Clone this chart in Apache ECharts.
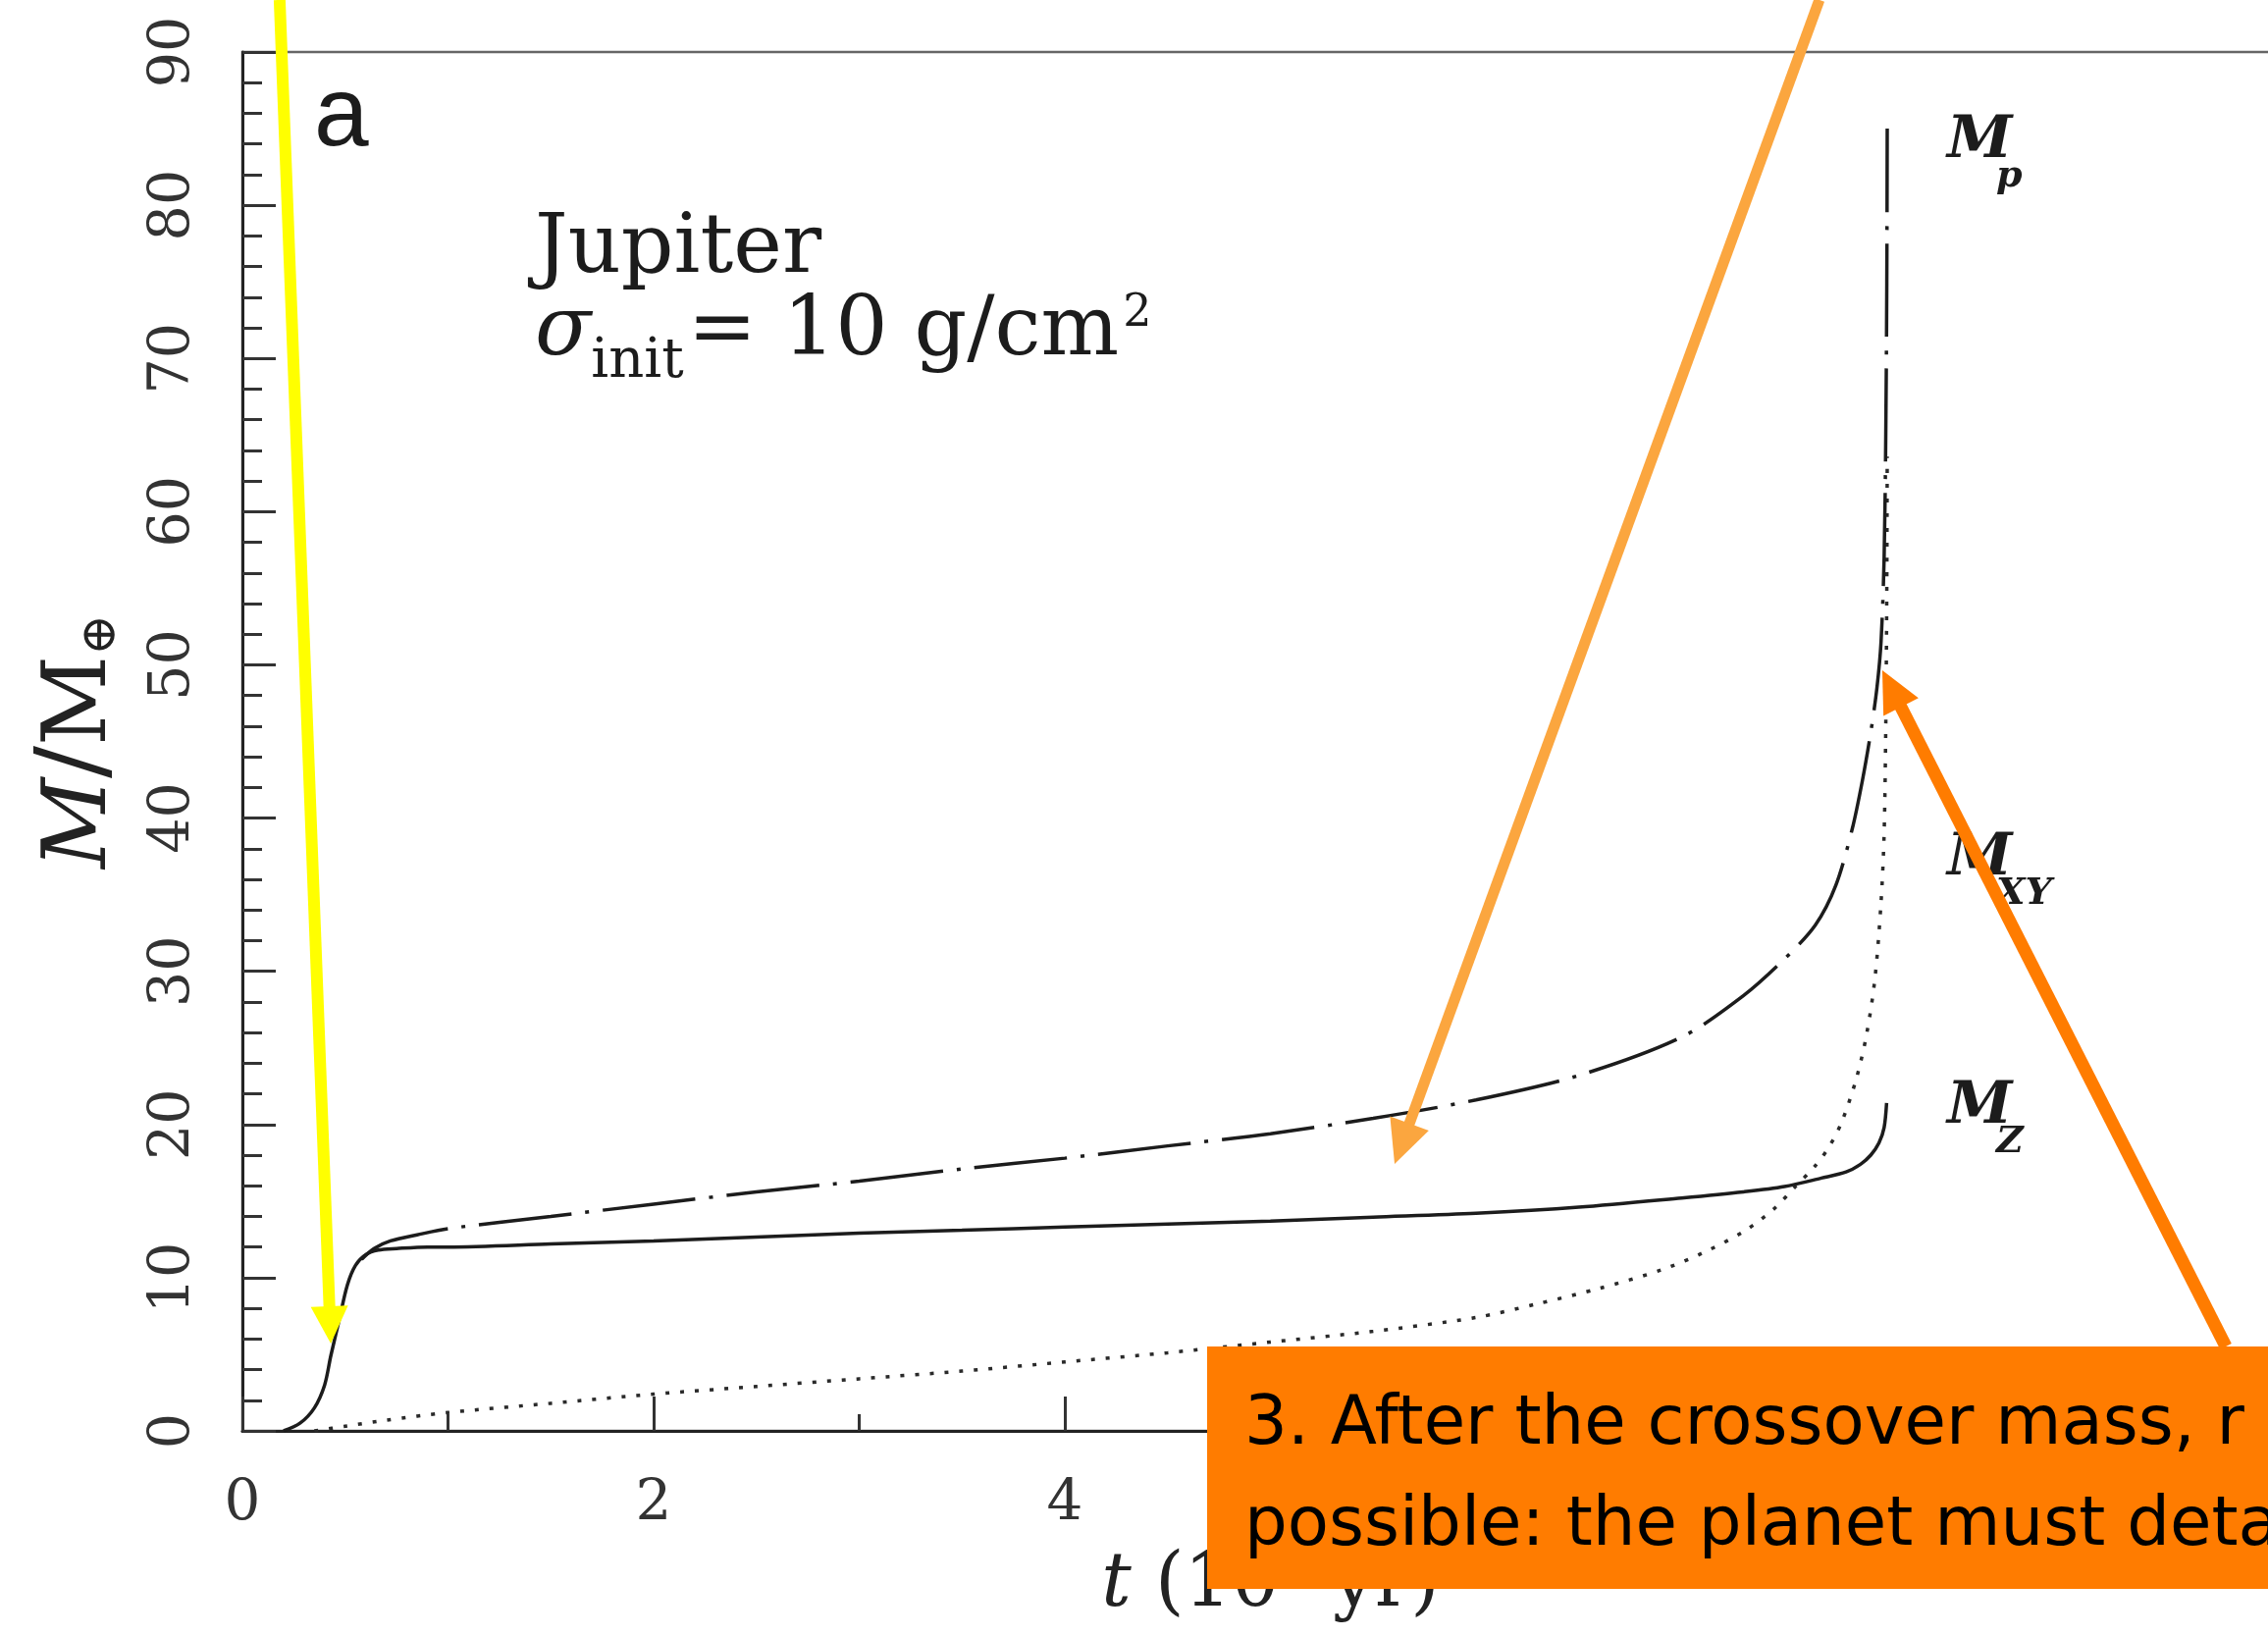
<!DOCTYPE html>
<html>
<head>
<meta charset="utf-8">
<script src="https://cdn.jsdelivr.net/npm/echarts@6/dist/echarts.min.js"></script>
<style>
  html, body { margin: 0; padding: 0; background: #ffffff; }
  #chart { width: 2311px; height: 1667px; }
</style>
</head>
<body>
<div id="chart"></div>
<script>
// Time in units of 10^6 yr, masses in Earth masses.
// Core (heavy element) mass M_Z
const coreT = [0.20, 0.28, 0.35, 0.40, 0.43, 0.47, 0.51, 0.55, 0.60, 0.66, 0.75, 0.90, 1.0, 1.5, 2.0, 2.5, 3.0, 3.5, 4.0, 4.5, 5.0, 5.5, 6.0, 6.5, 7.0, 7.3, 7.5, 7.68, 7.8, 7.87, 7.92, 7.96, 7.985, 7.997];
const coreM = [0.0, 0.5, 1.5, 3.0, 4.9, 7.2, 9.5, 10.8, 11.5, 11.8, 11.9, 12.0, 12.0, 12.2, 12.4, 12.65, 12.9, 13.1, 13.3, 13.5, 13.7, 13.95, 14.2, 14.6, 15.2, 15.6, 15.95, 16.5, 16.9, 17.4, 18.0, 18.8, 19.8, 21.4];

// Envelope (gas) mass M_XY
const envT = [0.35, 0.5, 0.7, 1.0, 1.5, 2.0, 2.5, 3.0, 3.5, 4.0, 4.5, 5.0, 5.5, 6.0, 6.3, 6.6, 6.9, 7.1, 7.3, 7.45, 7.55, 7.65, 7.72, 7.78, 7.85, 7.9, 7.94, 7.97, 7.985, 7.993, 7.998, 8.0];
const envM = [0.0, 0.3, 0.7, 1.2, 1.8, 2.4, 2.9, 3.4, 3.9, 4.5, 5.1, 5.8, 6.5, 7.4, 8.3, 9.3, 10.5, 11.6, 13.0, 14.5, 15.9, 17.3, 18.6, 20.2, 23.0, 25.9, 29.5, 34.5, 39.0, 46.0, 55.0, 63.6];

// Total planet mass M_p
const totalT = [0.58, 0.64, 0.72, 0.85, 1.0, 1.5, 2.0, 2.5, 3.0, 3.5, 4.0, 4.5, 5.0, 5.5, 6.0, 6.5, 7.0, 7.3, 7.5, 7.65, 7.75, 7.83, 7.88, 7.92, 7.95, 7.97, 7.985, 7.993, 7.998, 8.0];
const totalM = [11.2, 11.9, 12.4, 12.8, 13.2, 14.0, 14.8, 15.6, 16.3, 17.1, 17.8, 18.6, 19.4, 20.4, 21.6, 23.2, 25.7, 28.4, 30.8, 33.0, 35.6, 39.3, 42.5, 45.6, 48.5, 51.5, 57.0, 65.0, 75.0, 85.0];

// Axis tick labels
const xTickLabels = ['0', '2', '4', '6', '8', '10'];
const yTickLabels = ['0', '10', '20', '30', '40', '50', '60', '70', '80', '90'];

const pairs = (xs, ys) => xs.map((x, i) => [x, ys[i]]);

const SERIF = '"DejaVu Serif", "Liberation Serif", serif';
const INK = '#1c1c1c';

const chart = echarts.init(document.getElementById('chart'), null, { renderer: 'canvas', width: 2311, height: 1667 });

const option = {
  animation: false,
  backgroundColor: '#ffffff',
  grid: {
    left: 247, top: 53, right: -31, bottom: 209,
    show: true, borderColor: '#666666', borderWidth: 2.5, backgroundColor: 'transparent',
    containLabel: false, outerBoundsMode: 'none'
  },
  xAxis: {
    type: 'value', min: 0, max: 10, interval: 2,
    name: '{i|t} (10⁶ yr)', nameLocation: 'middle', nameGap: 120,
    nameTextStyle: {
      fontFamily: SERIF, fontSize: 76, color: '#222',
      rich: { i: { fontFamily: SERIF, fontStyle: 'italic', fontSize: 76, color: '#222' } }
    },
    axisLine: { lineStyle: { color: '#222', width: 3 } },
    axisTick: { inside: true, length: 35, lineStyle: { color: '#333', width: 3 } },
    minorTick: { show: true, splitNumber: 2, length: 17, lineStyle: { color: '#333', width: 3 } },
    axisLabel: {
      margin: 46, fontFamily: SERIF, fontSize: 58, color: '#333',
      formatter: v => xTickLabels[Math.round(v / 2)] ?? ''
    },
    splitLine: { show: false }
  },
  yAxis: {
    type: 'value', min: 0, max: 90, interval: 10,
    name: '{a|M}{b|/}{c|M}{d|⊕}', nameLocation: 'middle', nameRotate: 90, nameGap: 118,
    nameTextStyle: {
      color: '#222',
      rich: {
        a: { fontFamily: SERIF, fontStyle: 'italic', fontSize: 90, lineHeight: 90, verticalAlign: 'bottom', color: '#222' },
        b: { fontFamily: SERIF, fontSize: 98, lineHeight: 90, verticalAlign: 'bottom', color: '#222' },
        c: { fontFamily: SERIF, fontSize: 90, lineHeight: 90, verticalAlign: 'bottom', color: '#222' },
        d: { fontFamily: SERIF, fontSize: 50, lineHeight: 24, verticalAlign: 'bottom', color: '#222' }
      }
    },
    axisLine: { lineStyle: { color: '#222', width: 3 } },
    axisTick: { inside: true, length: 34, lineStyle: { color: '#333', width: 3 } },
    minorTick: { show: true, splitNumber: 5, length: 20, lineStyle: { color: '#333', width: 3 } },
    axisLabel: {
      rotate: 90, margin: 41, fontFamily: SERIF, fontSize: 57, color: '#333',
      formatter: v => yTickLabels[Math.round(v / 10)] ?? ''
    },
    splitLine: { show: false }
  },
  series: [
    {
      name: 'M_XY', type: 'line', data: pairs(envT, envM),
      showSymbol: false, symbol: 'none', smooth: 0.3,
      lineStyle: { color: '#2a2a2a', width: 3.5, type: [4, 11] }, z: 3
    },
    {
      name: 'M_Z', type: 'line', data: pairs(coreT, coreM),
      showSymbol: false, symbol: 'none', smooth: 0.3,
      lineStyle: { color: INK, width: 3.5, type: 'solid' }, z: 4
    },
    {
      name: 'M_p', type: 'line', data: pairs(totalT, totalM),
      showSymbol: false, symbol: 'none', smooth: 0.3,
      lineStyle: { color: INK, width: 3.5, type: [95, 14, 4, 14] }, z: 5
    }
  ]
};

chart.setOption(option);

// ---- annotations -------------------------------------------------------
const measureCtx = document.createElement('canvas').getContext('2d');
function textWidth(str, font) { measureCtx.font = font; return measureCtx.measureText(str).width; }

// text placed on an alphabetic baseline (canvas "middle" sits ~0.346em above it)
function label(str, size, family, x, baseline, opts = {}) {
  const style = opts.style || '';
  const weight = opts.weight || '';
  const font = `${style} ${weight} ${size}px ${family}`.trim();
  return {
    type: 'text', x: x, y: baseline - 0.346 * size, z: opts.z || 60,
    style: { text: str, font: font, fill: opts.fill || INK, align: 'left', verticalAlign: 'middle' },
    _w: textWidth(str, font)
  };
}

function arrow(from, to, color, width, headLen, headHalf) {
  const p0 = chart.convertToPixel({ gridIndex: 0 }, from);
  const p1 = chart.convertToPixel({ gridIndex: 0 }, to);
  const dx = p1[0] - p0[0], dy = p1[1] - p0[1];
  const len = Math.hypot(dx, dy);
  const ux = dx / len, uy = dy / len, nx = -uy, ny = ux;
  const bx = p1[0] - ux * headLen, by = p1[1] - uy * headLen;
  return [
    { type: 'line', z: 70, shape: { x1: p0[0], y1: p0[1], x2: bx + ux * 2, y2: by + uy * 2 },
      style: { stroke: color, lineWidth: width, lineCap: 'butt' } },
    { type: 'polygon', z: 70, shape: { points: [[p1[0], p1[1]], [bx + nx * headHalf, by + ny * headHalf], [bx - nx * headHalf, by - ny * headHalf]] },
      style: { fill: color } }
  ];
}

const elements = [];

// panel letter and planet / surface density note
elements.push(label('a', 100, '"Liberation Sans", Arial, sans-serif', 320, 155));
elements.push(label('Jupiter', 84, SERIF, 545, 284));
const sig = label('σ', 84, SERIF, 545, 368, { style: 'italic' });
elements.push(sig);
const sub = label('init', 56, SERIF, 545 + sig._w, 389);
elements.push(sub);
const eq = label('= 10 g/cm', 84, SERIF, 545 + sig._w + sub._w + 4, 368);
elements.push(eq);
elements.push(label('2', 46, SERIF, eq.x + eq._w + 4, 336));

// curve labels
function curveLabel(subText, baseline) {
  const m = label('M', 60, SERIF, 1984, baseline, { style: 'italic', weight: 'bold' });
  const s = label(subText, 38, SERIF, 2034, baseline + 28, { style: 'italic', weight: 'bold' });
  elements.push(m, s);
}
curveLabel('p', 165);
curveLabel('XY', 896);
curveLabel('Z', 1149);

// call-out box
elements.push({ type: 'rect', z: 65, shape: { x: 1230, y: 1372, width: 1200, height: 247 }, style: { fill: '#FF7C00' } });
elements.push(label('3. After the crossover mass, r', 69, '"DejaVu Sans", sans-serif', 1268, 1477, { fill: '#000', z: 66 }));
elements.push(label('possible: the planet must deta', 69, '"DejaVu Sans", sans-serif', 1268, 1580, { fill: '#000', z: 66 }));

// arrows
elements.push(...arrow([0.181, 93.4], [0.430, 5.7], '#FFFF00', 12, 38, 19));
elements.push(...arrow([7.67, 93.4], [5.604, 17.42], '#FBA63F', 11, 44, 21));
elements.push(...arrow([9.647, 5.51], [7.976, 49.65], '#FF7C00', 13, 42, 20));

elements.forEach(e => { delete e._w; });

chart.setOption({ graphic: { elements: elements } });
</script>
</body>
</html>
